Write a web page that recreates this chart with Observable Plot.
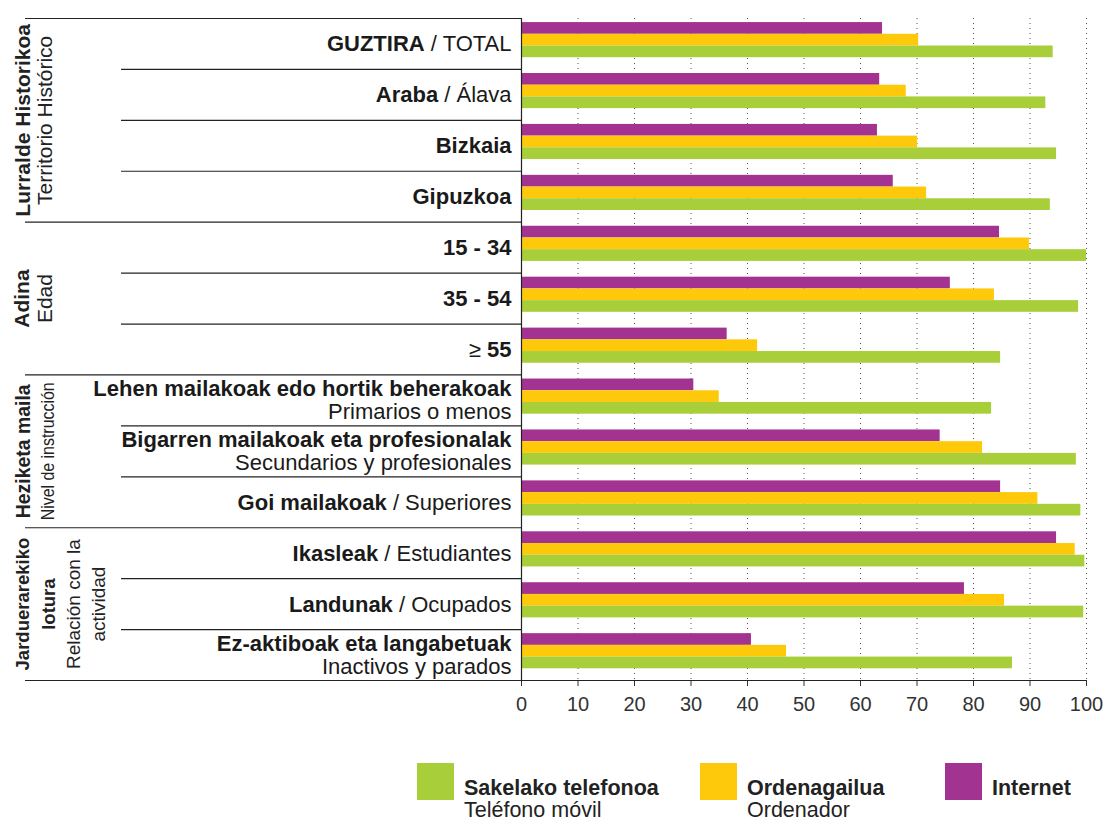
<!DOCTYPE html>
<html>
<head>
<meta charset="utf-8">
<script src="https://cdn.jsdelivr.net/npm/d3@7"></script>
<script src="https://cdn.jsdelivr.net/npm/@observablehq/plot@0.6"></script>
<style>
  body { margin: 0; background: #fff; }
  #wrap { position: relative; width: 1108px; height: 822px; overflow: hidden; font-family: "Liberation Sans", Arial, sans-serif; color: #222; }
  #wrap svg { display: block; }
  .leg { position: absolute; top: 763px; display: flex; align-items: flex-start; }
  .sw { width: 37px; height: 37px; flex: none; }
  .lt { margin-left: 10px; margin-top: 14px; font-size: 21.5px; line-height: 22px; white-space: nowrap; color: #222; }
  .lt b { display: block; }
</style>
</head>
<body>
<div id="wrap"></div>
<script>
// ---- data ----
const rowLabels = [
  "**GUZTIRA** / TOTAL",
  "**Araba** / Álava",
  "**Bizkaia**",
  "**Gipuzkoa**",
  "**15 - 34**",
  "**35 - 54**",
  "≥ **55**",
  "**Lehen mailakoak edo hortik beherakoak**\nPrimarios o menos",
  "**Bigarren mailakoak eta profesionalak**\nSecundarios y profesionales",
  "**Goi mailakoak** / Superiores",
  "**Ikasleak** / Estudiantes",
  "**Landunak** / Ocupados",
  "**Ez-aktiboak eta langabetuak**\nInactivos y parados"
];
const mobile   = [94.1, 92.8, 94.7, 93.6, 100.0, 98.6, 84.8, 83.2, 98.2, 99.0, 99.7, 99.5, 86.9];
const computer = [70.3, 68.1, 70.1, 71.7, 89.9, 83.7, 41.8, 35.0, 81.6, 91.4, 98.0, 85.5, 46.9];
const internet = [63.9, 63.4, 63.0, 65.8, 84.6, 75.9, 36.4, 30.5, 74.1, 84.8, 94.7, 78.4, 40.7];

const groupBold    = ["Lurralde Historikoa", "Adina", "Heziketa maila", "Jarduerarekiko\nlotura"];
const groupRegular = ["Territorio Histórico", "Edad", "Nivel de instrucción", "Relación con la\nactividad"];
const groupSize    = [4, 3, 3, 3];

const seriesBold    = ["Sakelako telefonoa", "Ordenagailua", "Internet"];
const seriesRegular = ["Teléfono móvil", "Ordenador", ""];
const xTicks = [0, 10, 20, 30, 40, 50, 60, 70, 80, 90, 100];

// ---- styles / layout ----
const colors = { mobile: "#a8cf3a", computer: "#ffc90b", internet: "#a33391" };
const W = 1108, H = 730, mt = 18, mb = 50, ml = 521, mr = 22;
const FONT = "Liberation Sans, Arial, sans-serif";

const plain = s => s.replace(/\*\*/g, "");
const categories = rowLabels.map(plain);
const rows = categories.map((cat, i) => ({ cat, mobile: mobile[i], computer: computer[i], internet: internet[i] }));

const bw = (H - mt - mb) / categories.length;
const barTop = bw * 0.08, barH = bw * 0.23;
const inset = k => ({ insetTop: barTop + k * barH, insetBottom: bw - barTop - (k + 1) * barH });

// group boundaries
const groupStart = groupSize.map((n, g) => d3.sum(groupSize.slice(0, g)));
const sectionEnd = groupStart.map((s, g) => s + groupSize[g] - 1);
const innerRows = categories.filter((c, i) => !sectionEnd.includes(i));
const sectionRows = sectionEnd.slice(0, -1).map(i => categories[i]);
const lastRow = categories[categories.length - 1];

const lineStyle = { stroke: "#222", strokeWidth: 1.2 };

// group label layout (screen x centers); condensed lengths for the narrow-set group
const groupLayout = [
  { bx: 23, rx: 45, bSize: 21, rSize: 21, bLH: 1, rLH: 1 },
  { bx: 22, rx: 45, bSize: 21, rSize: 21, bLH: 1, rLH: 1 },
  { bx: 23, rx: 47, bSize: 21, rSize: 19, bLH: 1, rLH: 1, bLen: 134, rLen: 138 },
  { bx: 33, rx: 84, bSize: 18.5, rSize: 19, bLH: 1.4, rLH: 1.33 }
];
const groupMarks = groupBold.flatMap((b, g) => {
  const mid = groupStart[g] + (groupSize[g] - 1) / 2;
  const anchor = categories[Math.floor(mid)];
  const dy = (mid - Math.floor(mid)) * bw;
  const L = groupLayout[g];
  return [
    Plot.text([anchor], { y: d => d, text: () => b, frameAnchor: "left", textAnchor: "middle", dx: L.bx - ml, dy,
      rotate: -90, fontWeight: "bold", fontSize: L.bSize, fontFamily: FONT, lineHeight: L.bLH, fill: "#222" }),
    Plot.text([anchor], { y: d => d, text: () => groupRegular[g], frameAnchor: "left", textAnchor: "middle", dx: L.rx - ml, dy,
      rotate: -90, fontSize: L.rSize, fontFamily: FONT, lineHeight: L.rLH, fill: "#222" })
  ];
});

const plot = Plot.plot({
  width: W, height: H,
  marginTop: mt, marginBottom: mb, marginLeft: ml, marginRight: mr,
  style: { fontFamily: FONT, fontSize: "20px", color: "#333", background: "#fff" },
  x: { domain: [0, 100], ticks: xTicks, tickSize: 6, tickPadding: 10, label: null },
  y: { domain: categories, padding: 0, round: false, axis: null },
  marks: [
    Plot.ruleX(xTicks.slice(1), { stroke: "#555", strokeDasharray: "1,4", strokeWidth: 1 }),
    Plot.barX(rows, { y: "cat", x: "internet", fill: colors.internet, ...inset(0) }),
    Plot.barX(rows, { y: "cat", x: "computer", fill: colors.computer, ...inset(1) }),
    Plot.barX(rows, { y: "cat", x: "mobile", fill: colors.mobile, ...inset(2) }),
    Plot.ruleX([0], { ...lineStyle }),
    Plot.ruleY(innerRows, { y: d => d, dy: bw / 2, insetLeft: 121 - ml, insetRight: W - mr - ml, ...lineStyle }),
    Plot.ruleY(sectionRows, { y: d => d, dy: bw / 2, insetLeft: 25 - ml, insetRight: W - mr - ml, ...lineStyle }),
    Plot.ruleY([categories[0]], { y: d => d, dy: -bw / 2, insetLeft: 25 - ml, insetRight: W - mr - ml, ...lineStyle }),
    Plot.ruleY([lastRow], { y: d => d, dy: bw / 2, insetLeft: 25 - ml, insetRight: 0, ...lineStyle }),
    Plot.text(rows, { y: "cat", text: "cat", frameAnchor: "left", textAnchor: "end", dx: -10,
      fontSize: 22, lineHeight: 1.05, fontFamily: FONT, fill: "#1a1a1a" }),
    ...groupMarks
  ]
});

// rich text: bold segments marked with ** in rowLabels (matched by content)
const NS = "http://www.w3.org/2000/svg";
const flatKeys = categories.map(c => c.replace(/\n/g, ""));
const condensed = new Map();
groupLayout.forEach((L, g) => {
  if (L.bLen) condensed.set(groupBold[g], L.bLen);
  if (L.rLen) condensed.set(groupRegular[g], L.rLen);
});
d3.select(plot).selectAll("text").each(function () {
  const content = this.textContent;
  if (condensed.has(content)) {
    this.setAttribute("textLength", condensed.get(content));
    this.setAttribute("lengthAdjust", "spacingAndGlyphs");
    return;
  }
  const i = flatKeys.indexOf(content);
  if (i < 0) return;
  const lines = rowLabels[i].split("\n");
  const tspans = Array.from(this.querySelectorAll("tspan"));
  const targets = tspans.length ? tspans : [this];
  if (targets.length !== lines.length) return;
  targets.forEach((el, j) => {
    el.textContent = "";
    lines[j].split("**").forEach((p, k) => {
      if (!p) return;
      const t = document.createElementNS(NS, "tspan");
      t.textContent = p;
      if (k % 2 === 1) t.setAttribute("font-weight", "bold");
      el.appendChild(t);
    });
  });
});

const wrap = document.getElementById("wrap");
wrap.appendChild(plot);

// legend
const legendX = [417, 700, 945];
const legendColors = [colors.mobile, colors.computer, colors.internet];
seriesBold.forEach((b, i) => {
  const d = document.createElement("div");
  d.className = "leg";
  d.style.left = legendX[i] + "px";
  d.innerHTML = `<span class="sw" style="background:${legendColors[i]}"></span>` +
    `<div class="lt"><b>${b}</b>${seriesRegular[i]}</div>`;
  wrap.appendChild(d);
});
</script>
</body>
</html>
